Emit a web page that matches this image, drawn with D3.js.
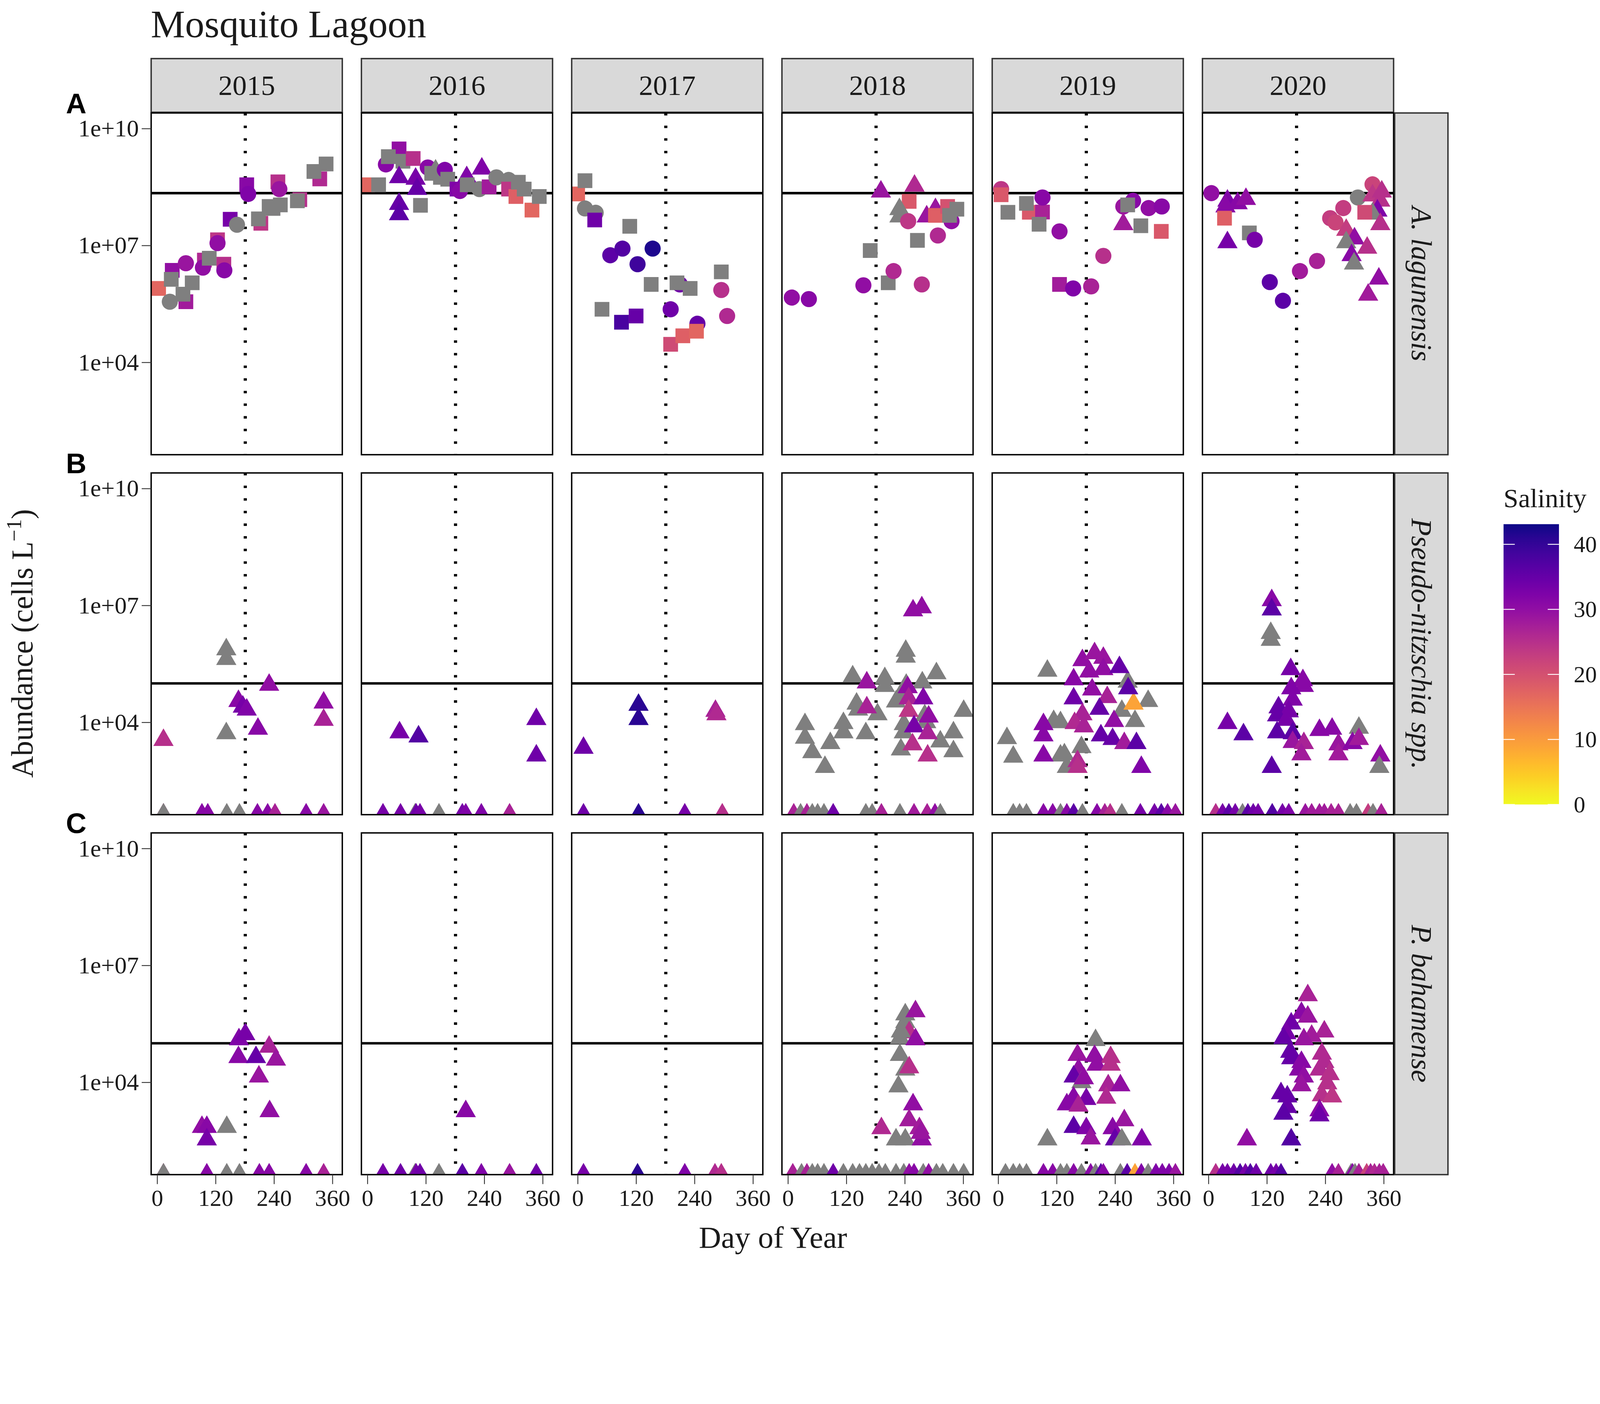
<!DOCTYPE html>
<html>
<head>
<meta charset="utf-8">
<script src="https://cdn.jsdelivr.net/npm/d3@7"></script>
<style>
  html, body { margin: 0; padding: 0; background: #fff; overflow: hidden; }
  #figure svg { display: block; width: 100vw; height: 100vh; }
  text { font-family: "Liberation Serif", "Times New Roman", serif; fill: #1a1a1a; }
</style>
</head>
<body>
<div id="figure"></div>
<script>
const years = [2015, 2016, 2017, 2018, 2019, 2020];
const speciesNames = ["A. lagunensis", "Pseudo-nitzschia spp.", "P. bahamense"];
const rowLetters = ["A", "B", "C"];
const thresholds = [2.2e8, 1e5, 1e5];
const dayTicks = [0, 120, 240, 360];
const abundanceTicks = [1e4, 1e7, 1e10];
const abundanceLabels = ["1e+04", "1e+07", "1e+10"];
const salinityTicks = [0, 10, 20, 30, 40];
const midYearDay = 181;

// [year, day, cells per L, salinity (null = not measured), shape]
const lagunensis = [
  [2015,3,7.9e5,17,'s'],[2015,31,2.3e6,30,'s'],[2015,26,3.6e5,null,'c'],[2015,29,1.35e6,null,'s'],
  [2015,59,3.6e5,28,'s'],[2015,53,5.6e5,null,'s'],[2015,72,1.1e6,null,'s'],[2015,59,3.5e6,29,'c'],
  [2015,97,4.2e6,26,'s'],[2015,94,2.7e6,30,'c'],[2015,107,4.7e6,null,'s'],[2015,124,1.4e7,24,'s'],
  [2015,124,1.15e7,30,'c'],[2015,137,3.3e6,25,'s'],[2015,138,2.3e6,31,'c'],[2015,150,4.7e7,33,'s'],
  [2015,164,3.4e7,null,'c'],[2015,184,3.6e8,31,'s'],[2015,187,2.1e8,32,'c'],[2015,213,3.7e7,24,'s'],
  [2015,208,4.8e7,null,'s'],[2015,230,1.0e8,null,'s'],[2015,238,8.9e7,null,'s'],[2015,253,1.1e8,null,'s'],
  [2015,248,4.3e8,25,'s'],[2015,251,2.8e8,29,'c'],[2015,293,1.5e8,25,'s'],[2015,288,1.4e8,null,'s'],
  [2015,334,5.1e8,26,'s'],[2015,322,7.9e8,null,'s'],[2015,347,1.23e9,null,'s'],
  [2016,0,3.6e8,17,'s'],[2016,23,3.6e8,null,'s'],[2016,38,1.2e9,31,'c'],[2016,65,3.0e9,30,'s'],
  [2016,43,1.9e9,null,'s'],[2016,73,1.45e9,null,'s'],[2016,94,1.7e9,25,'s'],[2016,65,5.6e8,34,'t'],
  [2016,99,5.1e8,33,'t'],[2016,65,1.15e8,35,'t'],[2016,65,6.3e7,36,'t'],[2016,109,1.07e8,null,'s'],
  [2016,102,2.8e8,35,'t'],[2016,124,1.0e9,31,'c'],[2016,132,7.1e8,null,'s'],[2016,140,8.3e8,null,'t'],
  [2016,150,5.6e8,null,'s'],[2016,159,8.7e8,32,'c'],[2016,165,5.0e8,null,'s'],[2016,184,2.8e8,32,'s'],
  [2016,190,2.5e8,31,'c'],[2016,204,5.6e8,32,'t'],[2016,205,3.6e8,null,'s'],[2016,230,2.8e8,null,'c'],
  [2016,235,9.3e8,32,'t'],[2016,250,3.2e8,28,'s'],[2016,265,5.6e8,null,'c'],[2016,290,4.8e8,null,'c'],
  [2016,290,2.8e8,24,'s'],[2016,305,1.8e8,18,'s'],[2016,310,4.2e8,null,'s'],[2016,322,2.8e8,null,'s'],
  [2016,338,8.1e7,17,'s'],[2016,353,1.8e8,null,'s'],
  [2017,0,2.1e8,17,'s'],[2017,15,4.6e8,null,'s'],[2017,15,8.9e7,null,'c'],[2017,37,6.9e7,null,'c'],
  [2017,35,4.5e7,34,'s'],[2017,107,3.1e7,null,'s'],[2017,67,5.6e6,36,'c'],[2017,92,8.3e6,37,'c'],
  [2017,123,3.3e6,39,'c'],[2017,154,8.3e6,42,'c'],[2017,151,1.0e6,null,'s'],[2017,210,1.0e6,34,'c'],
  [2017,204,1.1e6,null,'s'],[2017,231,7.9e5,null,'s'],[2017,295,2.1e6,null,'s'],[2017,295,7.2e5,25,'c'],
  [2017,307,1.55e5,26,'c'],[2017,50,2.3e5,null,'s'],[2017,90,1.07e5,38,'s'],[2017,120,1.55e5,35,'s'],
  [2017,191,2.3e5,34,'c'],[2017,246,9.8e4,35,'c'],[2017,191,2.9e4,21,'s'],[2017,216,4.8e4,18,'s'],
  [2017,244,6.3e4,17,'s'],
  [2018,8,4.6e5,30,'c'],[2018,43,4.2e5,31,'c'],[2018,155,9.5e5,30,'c'],[2018,169,7.4e6,null,'s'],
  [2018,206,1.1e6,null,'s'],[2018,217,2.2e6,26,'c'],[2018,275,1.0e6,25,'c'],[2018,191,2.4e8,29,'t'],
  [2018,260,3.4e8,26,'t'],[2018,249,1.35e8,19,'s'],[2018,229,8.5e7,null,'t'],[2018,229,5.5e7,null,'t'],
  [2018,247,4.2e7,24,'c'],[2018,285,5.5e7,29,'t'],[2018,303,8.5e7,29,'t'],[2018,303,5.9e7,18,'s'],
  [2018,266,1.35e7,null,'s'],[2018,308,1.8e7,26,'c'],[2018,336,4.2e7,30,'c'],[2018,328,1.0e8,20,'s'],
  [2018,332,5.9e7,null,'s'],[2018,347,8.5e7,null,'s'],
  [2019,6,2.8e8,24,'c'],[2019,6,2.0e8,19,'s'],[2019,20,7.1e7,null,'s'],[2019,64,7.1e7,19,'s'],
  [2019,91,7.2e7,27,'s'],[2019,91,1.7e8,31,'c'],[2019,58,1.2e8,null,'s'],[2019,84,3.5e7,null,'s'],
  [2019,126,2.3e7,30,'c'],[2019,216,5.4e6,25,'c'],[2019,126,1.0e6,28,'s'],[2019,154,7.9e5,32,'c'],
  [2019,191,8.9e5,27,'c'],[2019,277,1.4e8,31,'c'],[2019,257,1.0e8,29,'c'],[2019,257,3.5e7,28,'t'],
  [2019,266,1.1e8,null,'s'],[2019,293,3.2e7,null,'s'],[2019,309,9.1e7,30,'c'],[2019,336,1.0e8,31,'c'],
  [2019,335,2.3e7,19,'s'],
  [2020,6,2.2e8,30,'c'],[2020,39,1.4e8,32,'t'],[2020,60,1.2e8,31,'t'],[2020,77,1.55e8,30,'t'],
  [2020,35,1.0e8,31,'t'],[2020,33,5.0e7,18,'s'],[2020,39,1.2e7,33,'t'],[2020,84,2.1e7,null,'s'],
  [2020,95,1.4e7,33,'c'],[2020,126,1.15e6,36,'c'],[2020,153,3.8e5,36,'c'],[2020,188,2.2e6,28,'c'],
  [2020,223,4.0e6,27,'c'],[2020,250,5.0e7,23,'c'],[2020,277,9.1e7,23,'c'],[2020,261,3.9e7,22,'c'],
  [2020,337,3.7e8,22,'c'],[2020,307,1.7e8,null,'c'],[2020,337,1.9e8,24,'t'],[2020,356,2.4e8,25,'t'],
  [2020,353,1.4e8,25,'t'],[2020,347,7.8e7,32,'t'],[2020,337,6.5e7,null,'t'],[2020,353,3.5e7,25,'t'],
  [2020,321,7.1e7,21,'s'],[2020,283,2.5e7,23,'t'],[2020,300,1.5e7,30,'t'],[2020,283,1.2e7,null,'t'],
  [2020,326,8.7e6,25,'t'],[2020,294,5.6e6,31,'t'],[2020,299,3.4e6,null,'t'],[2020,350,1.4e6,30,'t'],
  [2020,328,5.4e5,28,'t']
];

// [year, day, cells per L, salinity]; 0 cells = not detected
const pseudoNitzschia = [
  [2015,13,3.5e3,25],[2015,142,7.4e5,null],[2015,142,4.2e5,null],[2015,142,5.2e3,null],[2015,167,3.5e4,31],
  [2015,176,2.5e4,33],[2015,184,2.1e4,32],[2015,230,9.1e4,30],[2015,207,6.8e3,31],[2015,342,3.2e4,30],
  [2015,342,1.15e4,27],
  [2015,13,0,25],[2015,13,0,null],[2015,92,0,31],[2015,104,0,31],[2015,143,0,null],[2015,169,0,null],
  [2015,206,0,31],[2015,227,0,31],[2015,242,0,27],[2015,306,0,31],[2015,342,0,29],
  [2016,66,5.5e3,33],[2016,105,4.3e3,37],[2016,347,1.2e4,34],[2016,347,1.4e3,34],
  [2016,32,0,33],[2016,68,0,33],[2016,98,0,null],[2016,100,0,34],[2016,108,0,33],[2016,147,0,null],
  [2016,195,0,33],[2016,202,0,32],[2016,234,0,32],[2016,292,0,27],
  [2017,12,2.2e3,34],[2017,125,2.8e4,41],[2017,125,1.2e4,41],[2017,283,1.95e4,27],[2017,285,1.6e4,26],
  [2017,12,0,34],[2017,125,0,41],[2017,220,0,33],[2017,297,0,25],
  [2018,35,8.9e3,null],[2018,35,4.0e3,null],[2018,50,1.7e3,null],[2018,76,7.1e2,null],[2018,87,2.9e3,null],
  [2018,114,9.5e3,null],[2018,114,5.5e3,null],[2018,133,1.5e5,null],[2018,141,3.0e4,null],[2018,144,2.1e4,null],
  [2018,160,5.2e3,null],[2018,184,1.6e4,null],[2018,199,1.35e5,null],[2018,199,8.5e4,null],[2018,222,3.4e4,null],
  [2018,232,5.0e4,null],[2018,242,6.8e5,null],[2018,242,4.8e5,null],[2018,243,9.1e4,null],[2018,238,8.9e3,null],
  [2018,238,5.5e3,null],[2018,232,2.0e3,null],[2018,276,1.05e5,null],[2018,281,1.5e4,null],[2018,284,1.0e4,null],
  [2018,305,1.8e5,null],[2018,313,3.2e3,null],[2018,340,5.5e3,null],[2018,340,1.8e3,null],[2018,361,1.95e4,null],
  [2018,162,1.05e5,29],[2018,162,2.4e4,27],[2018,257,7.4e6,30],[2018,275,8.9e6,30],[2018,246,7.9e4,30],
  [2018,248,4.1e4,27],[2018,248,1.95e4,24],[2018,278,4.1e4,32],[2018,259,7.8e3,33],[2018,289,1.4e4,30],
  [2018,287,5.2e3,27],[2018,256,2.7e3,25],[2018,287,1.4e3,25],
  [2018,12,0,27],[2018,26,0,null],[2018,39,0,27],[2018,50,0,null],[2018,61,0,null],[2018,74,0,null],
  [2018,93,0,34],[2018,160,0,null],[2018,173,0,null],[2018,192,0,27],[2018,230,0,null],[2018,259,0,28],
  [2018,286,0,27],[2018,302,0,30],[2018,313,0,null],
  [2019,101,2.1e5,null],[2019,18,3.9e3,null],[2019,31,1.3e3,null],[2019,114,1.07e4,null],[2019,128,1.0e4,null],
  [2019,128,1.4e3,null],[2019,141,7.1e2,null],[2019,171,2.3e3,null],[2019,254,1.95e4,null],[2019,266,1.1e5,null],
  [2019,281,1.07e4,null],[2019,308,3.5e4,null],[2019,136,1.5e3,null],[2019,278,3.0e4,9],
  [2019,93,8.9e3,31],[2019,93,4.6e3,31],[2019,93,1.4e3,31],[2019,155,1.26e5,31],[2019,155,4.1e4,34],
  [2019,173,3.9e5,30],[2019,198,5.9e5,29],[2019,216,4.5e5,29],[2019,187,2.0e5,30],[2019,216,2.3e5,30],
  [2019,249,2.6e5,35],[2019,267,7.4e4,36],[2019,193,6.9e4,30],[2019,224,4.4e4,27],[2019,208,2.2e4,35],
  [2019,173,1.6e4,27],[2019,157,9.5e3,26],[2019,176,7.8e3,27],[2019,238,1.07e4,30],[2019,211,4.6e3,35],
  [2019,235,3.7e3,35],[2019,259,2.9e3,28],[2019,284,2.9e3,36],[2019,294,7.1e2,32],[2019,163,1.0e3,26],
  [2019,163,7.1e2,25],
  [2019,31,0,null],[2019,44,0,null],[2019,58,0,null],[2019,93,0,31],[2019,112,0,31],[2019,128,0,null],
  [2019,141,0,31],[2019,155,0,36],[2019,173,0,null],[2019,203,0,31],[2019,219,0,27],[2019,230,0,25],
  [2019,254,0,null],[2019,292,0,33],[2019,321,0,33],[2019,335,0,36],[2019,348,0,31],[2019,364,0,29],
  [2020,130,1.35e7,31],[2020,130,7.8e6,36],[2020,128,1.95e6,null],[2020,128,1.3e6,null],[2020,169,2.3e5,33],
  [2020,194,1.2e5,31],[2020,196,8.5e4,31],[2020,170,7.4e4,32],[2020,173,3.8e4,32],[2020,144,2.4e4,35],
  [2020,165,1.9e4,33],[2020,141,1.5e4,35],[2020,160,1.15e4,33],[2020,141,5.5e3,36],[2020,173,5.2e3,36],
  [2020,173,3.1e3,29],[2020,196,2.9e3,27],[2020,191,1.5e3,28],[2020,130,7.1e2,36],[2020,39,9.5e3,33],
  [2020,72,4.9e3,36],[2020,228,6.3e3,31],[2020,254,6.8e3,31],[2020,267,2.7e3,29],[2020,267,1.5e3,28],
  [2020,309,7.2e3,null],[2020,296,2.9e3,31],[2020,309,3.7e3,28],[2020,353,1.4e3,30],[2020,351,7.1e2,null],
  [2020,15,0,25],[2020,29,0,33],[2020,42,0,36],[2020,55,0,33],[2020,70,0,null],[2020,81,0,36],
  [2020,92,0,34],[2020,102,0,33],[2020,131,0,37],[2020,152,0,33],[2020,165,0,32],[2020,199,0,29],
  [2020,212,0,28],[2020,228,0,28],[2020,238,0,28],[2020,252,0,27],[2020,267,0,27],[2020,291,0,null],
  [2020,304,0,null],[2020,328,0,23],[2020,338,0,null],[2020,355,0,27]
];

// [year, day, cells per L, salinity]
const bahamense = [
  [2015,168,1.26e5,32],[2015,181,1.7e5,33],[2015,167,4.4e4,31],[2015,203,4.4e4,35],[2015,230,8.1e4,27],
  [2015,244,3.8e4,29],[2015,209,1.4e4,29],[2015,231,1.8e3,30],[2015,92,7.1e2,30],[2015,102,7.1e2,31],
  [2015,143,7.1e2,null],[2015,102,3.4e2,33],
  [2015,13,0,25],[2015,13,0,null],[2015,102,0,31],[2015,143,0,null],[2015,169,0,null],[2015,210,0,31],
  [2015,230,0,31],[2015,306,0,31],[2015,342,0,27],
  [2016,202,1.8e3,31],
  [2016,32,0,33],[2016,68,0,34],[2016,98,0,null],[2016,100,0,33],[2016,108,0,34],[2016,147,0,null],
  [2016,195,0,36],[2016,234,0,32],[2016,292,0,29],[2016,347,0,34],
  [2017,12,0,33],[2017,123,0,41],[2017,220,0,32],[2017,282,0,26],[2017,295,0,25],
  [2018,241,5.5e5,null],[2018,241,3.5e5,null],[2018,262,6.6e5,29],[2018,249,1.9e5,25],[2018,232,2.0e5,null],
  [2018,230,1.35e5,null],[2018,262,1.26e5,30],[2018,230,5.0e4,null],[2018,241,2.1e4,null],[2018,249,2.4e4,25],
  [2018,227,7.8e3,null],[2018,257,2.7e3,30],[2018,249,1.05e3,28],[2018,270,6.6e2,28],[2018,192,6.6e2,26],
  [2018,222,3.4e2,null],[2018,241,3.4e2,null],[2018,275,3.4e2,30],[2018,273,5.0e2,29],
  [2018,10,0,27],[2018,28,0,null],[2018,39,0,27],[2018,50,0,null],[2018,61,0,null],[2018,74,0,null],
  [2018,93,0,34],[2018,114,0,null],[2018,133,0,null],[2018,147,0,null],[2018,160,0,null],[2018,173,0,null],
  [2018,187,0,null],[2018,200,0,null],[2018,222,0,null],[2018,238,0,null],[2018,249,0,30],[2018,259,0,31],
  [2018,278,0,null],[2018,289,0,30],[2018,305,0,null],[2018,318,0,null],[2018,340,0,null],[2018,361,0,null],
  [2019,200,1.2e5,null],[2019,163,5.0e4,29],[2019,198,4.7e4,30],[2019,231,4.4e4,25],[2019,202,2.8e4,30],
  [2019,231,2.8e4,25],[2019,165,2.1e4,30],[2019,155,1.4e4,35],[2019,171,1.0e4,null],[2019,176,1.26e4,30],
  [2019,226,8.3e3,27],[2019,251,8.3e3,30],[2019,155,4.0e3,31],[2019,181,3.7e3,33],[2019,222,4.0e3,26],
  [2019,141,2.7e3,31],[2019,165,2.5e3,27],[2019,155,7.1e2,36],[2019,181,6.6e2,32],[2019,190,3.6e2,29],
  [2019,259,1.05e3,29],[2019,235,6.6e2,31],[2019,240,3.4e2,35],[2019,254,3.4e2,null],[2019,295,3.4e2,32],
  [2019,101,3.4e2,null],
  [2019,15,0,null],[2019,31,0,null],[2019,44,0,null],[2019,58,0,null],[2019,93,0,31],[2019,112,0,31],
  [2019,128,0,null],[2019,141,0,null],[2019,155,0,31],[2019,171,0,null],[2019,190,0,31],[2019,200,0,null],
  [2019,211,0,36],[2019,216,0,31],[2019,251,0,null],[2019,265,0,36],[2019,281,0,9],[2019,294,0,32],
  [2019,308,0,null],[2019,324,0,32],[2019,337,0,32],[2019,351,0,32],[2019,364,0,29],
  [2020,204,1.7e6,27],[2020,191,6.0e5,31],[2020,204,4.8e5,29],[2020,170,3.2e5,34],[2020,160,1.8e5,33],
  [2020,238,2.0e5,27],[2020,154,1.35e5,35],[2020,212,1.55e5,28],[2020,196,1.26e5,29],[2020,168,6.0e4,35],
  [2020,170,4.1e4,35],[2020,233,5.4e4,26],[2020,238,3.3e4,26],[2020,191,3.3e4,31],[2020,186,2.1e4,31],
  [2020,228,2.1e4,26],[2020,249,1.6e4,25],[2020,196,1.4e4,30],[2020,244,9.3e3,25],[2020,191,8.3e3,29],
  [2020,233,4.6e3,25],[2020,254,4.3e3,24],[2020,149,5.2e3,35],[2020,162,4.3e3,35],[2020,162,2.3e3,35],
  [2020,154,1.55e3,36],[2020,228,1.9e3,31],[2020,228,1.4e3,34],[2020,79,3.4e2,30],[2020,170,3.4e2,37],
  [2020,15,0,25],[2020,29,0,33],[2020,39,0,33],[2020,52,0,34],[2020,65,0,37],[2020,76,0,33],
  [2020,86,0,37],[2020,98,0,34],[2020,128,0,34],[2020,139,0,33],[2020,149,0,37],[2020,254,0,30],
  [2020,267,0,27],[2020,293,0,null],[2020,296,0,31],[2020,301,0,null],[2020,309,0,27],[2020,325,0,22],
  [2020,333,0,27],[2020,341,0,26],[2020,351,0,27],[2020,359,0,27]
];

const rows = [lagunensis, pseudoNitzschia, bahamense];

document.addEventListener("DOMContentLoaded", () => {
  const W = 4562, H = 3593;
  const panelX0 = 431, panelW = 545, colStep = 599.5;
  const panelY0 = 322, panelH = 974, rowStep = 1026;
  const stripH = 153, sideStripW = 152;

  const svg = d3.select("#figure").append("svg")
    .attr("viewBox", `0 0 ${W} ${H}`)
    .attr("preserveAspectRatio", "xMidYMin meet");

  const x = d3.scaleLinear().domain([-12.3, 380.3]).range([0, panelW]);
  const y = d3.scaleLog().domain([42.7, 2.51e10]).range([panelH, 0]);
  const salMax = 43.1;
  const salColor = d3.scaleSequential(t => d3.interpolatePlasma(1 - t)).domain([0, salMax]);
  const naGrey = "#7f7f7f";

  const symbolType = { c: d3.symbolCircle, s: d3.symbolSquare, t: d3.symbolTriangle };
  const symbolSize = { c: 1662, s: 1764, t: 1450 };
  const symbolPath = {};
  for (const k in symbolType) symbolPath[k] = d3.symbol().type(symbolType[k]).size(symbolSize[k])();

  // title
  svg.append("text").attr("x", 430).attr("y", 106)
    .style("font-size", "110px").text("Mosquito Lagoon");

  const defs = svg.append("defs");
  defs.append("clipPath").attr("id", "panel-clip")
    .append("rect").attr("width", panelW).attr("height", panelH);

  rows.forEach((data, r) => {
    const top = panelY0 + r * rowStep;

    svg.append("text")
      .attr("x", 188).attr("y", top + 1)
      .style("font-family", "'Liberation Sans', Arial, sans-serif")
      .style("font-weight", "bold").style("font-size", "81px")
      .style("fill", "#000")
      .text(rowLetters[r]);

    years.forEach((yr, c) => {
      const left = panelX0 + c * colStep;
      const g = svg.append("g").attr("transform", `translate(${left},${top})`);

      // year strips on top row
      if (r === 0) {
        g.append("rect").attr("x", 0).attr("y", -stripH - 2)
          .attr("width", panelW).attr("height", stripH)
          .attr("fill", "#d9d9d9").attr("stroke", "#333").attr("stroke-width", 4);
        g.append("text").attr("x", panelW / 2).attr("y", -stripH / 2 - 2)
          .attr("text-anchor", "middle").attr("dominant-baseline", "central")
          .style("font-size", "81px").text(yr);
      }

      const pts = g.append("g").attr("clip-path", "url(#panel-clip)");

      pts.append("line")
        .attr("x1", x(midYearDay)).attr("x2", x(midYearDay))
        .attr("y1", 0).attr("y2", panelH)
        .attr("stroke", "#000").attr("stroke-width", 9)
        .attr("stroke-dasharray", "7 29");

      pts.append("line")
        .attr("x1", 0).attr("x2", panelW)
        .attr("y1", y(thresholds[r])).attr("y2", y(thresholds[r]))
        .attr("stroke", "#000").attr("stroke-width", 7);

      const floor = y.domain()[0];
      pts.selectAll("path.pt")
        .data(data.filter(d => d[0] === yr))
        .join("path")
        .attr("class", "pt")
        .attr("d", d => symbolPath[d[4] || "t"])
        .attr("transform", d => `translate(${x(d[1])},${y(Math.max(d[2], floor))})`)
        .attr("fill", d => d[3] == null ? naGrey : salColor(d[3]));

      g.append("rect").attr("width", panelW).attr("height", panelH)
        .attr("fill", "none").attr("stroke", "#000").attr("stroke-width", 4);

      if (c === 0) {
        const ax = g.append("g").call(d3.axisLeft(y)
          .tickValues(abundanceTicks)
          .tickFormat((d, i) => abundanceLabels[i])
          .tickSize(27).tickPadding(8));
        ax.select(".domain").remove();
        ax.selectAll("line").attr("stroke", "#333").attr("stroke-width", 2.5);
        ax.selectAll("text").style("font-size", "69px")
          .style("font-family", "'Liberation Serif', serif").attr("fill", "#1a1a1a");
      }

      if (r === rows.length - 1) {
        const ax = g.append("g").attr("transform", `translate(0,${panelH})`)
          .call(d3.axisBottom(x).tickValues(dayTicks).tickSize(27).tickPadding(14));
        ax.select(".domain").remove();
        ax.selectAll("line").attr("stroke", "#333").attr("stroke-width", 2.5);
        ax.selectAll("text").style("font-size", "67px")
          .style("font-family", "'Liberation Serif', serif").attr("fill", "#1a1a1a");
      }

      // species strip on the right
      if (c === years.length - 1) {
        g.append("rect").attr("x", panelW + 3).attr("y", 0)
          .attr("width", sideStripW).attr("height", panelH)
          .attr("fill", "#d9d9d9").attr("stroke", "#333").attr("stroke-width", 4);
        g.append("text")
          .attr("transform", `translate(${panelW + 3 + sideStripW / 2},${panelH / 2}) rotate(90)`)
          .attr("text-anchor", "middle").attr("dominant-baseline", "central")
          .style("font-size", "82px").style("font-style", "italic")
          .text(speciesNames[r]);
      }
    });
  });

  // axis titles
  svg.append("text").attr("x", 2204).attr("y", 3556)
    .attr("text-anchor", "middle").style("font-size", "88px").text("Day of Year");

  const yt = svg.append("text")
    .attr("transform", `translate(92,1834) rotate(-90)`)
    .attr("text-anchor", "middle").style("font-size", "86px");
  yt.append("tspan").text("Abundance (cells L");
  yt.append("tspan").attr("dy", -32).style("font-size", "60px").text("\u22121");
  yt.append("tspan").attr("dy", 32).text(")");

  // salinity colour bar
  const barX = 4287, barW = 158, barTop = 1494, barBottom = 2293;
  const sy = d3.scaleLinear().domain([0, salMax]).range([barBottom, barTop]);

  svg.append("text").attr("x", barX).attr("y", 1446)
    .style("font-size", "76px").text("Salinity");

  const grad = defs.append("linearGradient").attr("id", "sal-grad")
    .attr("x1", 0).attr("y1", 1).attr("x2", 0).attr("y2", 0);
  d3.range(0, 1.0001, 0.05).forEach(t => {
    grad.append("stop").attr("offset", t).attr("stop-color", salColor(t * salMax));
  });
  svg.append("rect").attr("x", barX).attr("y", barTop)
    .attr("width", barW).attr("height", barBottom - barTop)
    .attr("fill", "url(#sal-grad)");

  const lg = svg.append("g");
  salinityTicks.forEach(v => {
    lg.append("line").attr("x1", barX).attr("x2", barX + 32)
      .attr("y1", sy(v)).attr("y2", sy(v)).attr("stroke", "#fff").attr("stroke-width", 2.5);
    lg.append("line").attr("x1", barX + barW - 32).attr("x2", barX + barW)
      .attr("y1", sy(v)).attr("y2", sy(v)).attr("stroke", "#fff").attr("stroke-width", 2.5);
    lg.append("text").attr("x", 4487).attr("y", sy(v))
      .attr("dominant-baseline", "central").style("font-size", "66px").text(v);
  });
});
</script>
</body>
</html>
